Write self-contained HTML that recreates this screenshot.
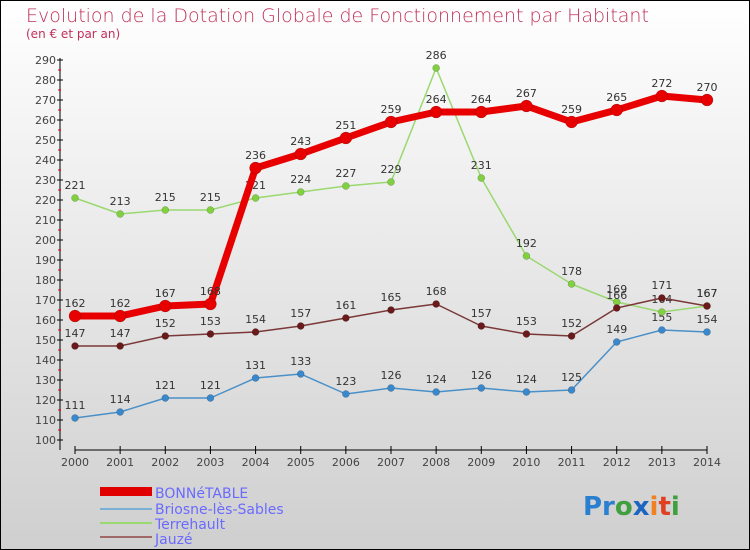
<!DOCTYPE html>
<html><head><meta charset="utf-8"><style>
body{margin:0}
#c{width:750px;height:550px;position:relative;overflow:hidden;font-family:"DejaVu Sans","Liberation Sans",sans-serif}
</style></head><body>
<div id="c">
<svg id="s" width="750" height="550" xmlns="http://www.w3.org/2000/svg">
<defs><linearGradient id="bg" x1="0" y1="0" x2="0" y2="1"><stop offset="0" stop-color="#ffffff"/><stop offset="1" stop-color="#cfcfcf"/></linearGradient></defs>
<rect x="0.5" y="0.5" width="749" height="549" fill="url(#bg)" stroke="#000"/>
<text x="26" y="22" font-size="19" fill="#c0305a" font-weight="200">Evolution de la Dotation Globale de Fonctionnement par Habitant</text>
<text x="26" y="38" font-size="12" fill="#c0305a">(en € et par an)</text>
<g id="axes"></g><g id="series"></g>
<g>
<rect x="100" y="487" width="52" height="9" fill="#e00000"/>
<text x="155" y="498" font-size="14" fill="#6a6aff">BONNéTABLE</text>
<rect x="100" y="508" width="52" height="2" fill="#7ab0d6"/>
<text x="155" y="514" font-size="14" fill="#6a6aff">Briosne-lès-Sables</text>
<rect x="100" y="522" width="52" height="2" fill="#9ad870"/>
<text x="155" y="529" font-size="14" fill="#6a6aff">Terrehault</text>
<rect x="100" y="536" width="52" height="2" fill="#a06868"/>
<text x="155" y="544" font-size="14" fill="#6a6aff">Jauzé</text>
</g>
<text x="583" y="515" font-size="26" font-weight="bold"><tspan fill="#2a7fd0">Pr</tspan><tspan fill="#40a040">o</tspan><tspan fill="#1a66c0">x</tspan><tspan fill="#f08020">i</tspan><tspan fill="#e04020">t</tspan><tspan fill="#40a040">i</tspan></text>
</svg></div>
<script>
const years=[2000,2001,2002,2003,2004,2005,2006,2007,2008,2009,2010,2011,2012,2013,2014];
const yTicks=[100,110,120,130,140,150,160,170,180,190,200,210,220,230,240,250,260,270,280,290];
const bonnetable=[162,162,167,168,236,243,251,259,264,264,267,259,265,272,270];
const briosne=[111,114,121,121,131,133,123,126,124,126,124,125,149,155,154];
const terrehault=[221,213,215,215,221,224,227,229,286,231,192,178,169,164,167];
const jauze=[147,147,152,153,154,157,161,165,168,157,153,152,166,171,167];
const NS="http://www.w3.org/2000/svg";
const X=i=>75+i*(632/14);
const Y=v=>440-(v-100)*2;
function mk(t,a,p){const e=document.createElementNS(NS,t);for(const k in a)e.setAttribute(k,a[k]);p.appendChild(e);return e;}
const ax=document.getElementById('axes');
let l=mk('line',{x1:60,y1:58,x2:60,y2:450,stroke:'#000'},ax);


l=mk('line',{x1:75,y1:450,x2:707,y2:450,stroke:'#000'},ax);


yTicks.forEach(v=>{
 mk('line',{x1:57,y1:Y(v),x2:63,y2:Y(v),stroke:'#000'},ax);
 if(v<290) mk('line',{x1:58,y1:Y(v+5),x2:61,y2:Y(v+5),stroke:'#e00000'},ax);
 const t=mk('text',{x:56,y:Y(v)+4,'font-size':11,'text-anchor':'end',fill:'#444'},ax);
 t.textContent=v;
 
 
});
years.forEach((yr,i)=>{
 mk('line',{x1:X(i),y1:446,x2:X(i),y2:454,stroke:'#000'},ax);
 const t=mk('text',{x:X(i),y:466,'font-size':11,'text-anchor':'middle',fill:'#444'},ax);
 t.textContent=yr;
 
 
});
const sg=document.getElementById('series');
function draw(vals,name,lc,pc,lw,r){
 const g=mk('g',{},sg);
 
 
 const p=mk('polyline',{points:vals.map((v,i)=>X(i)+','+Y(v)).join(' '),fill:'none',stroke:lc,'stroke-width':lw,'stroke-linejoin':'round'},g);
 
 
 vals.forEach((v,i)=>{
  const c=mk('circle',{cx:X(i),cy:Y(v),r:r,fill:pc,stroke:'rgba(0,0,0,0.3)','stroke-width':0.5},g);
  
  
  const t=mk('text',{x:X(i),y:Y(v)-9,'font-size':11,'text-anchor':'middle',fill:'#333'},g);
  t.textContent=v;
  
  
 });
}
draw(briosne,'briosne','#4a90c8','#3a88cc',1.5,3.5);
draw(terrehault,'terrehault','#9ad870','#80d040',1.5,3.5);
draw(jauze,'jauze','#7a3838','#6a1a1a',1.5,3.5);
draw(bonnetable,'bonnetable','#e80000','#e80000',7,6);
</script>
</body></html>
